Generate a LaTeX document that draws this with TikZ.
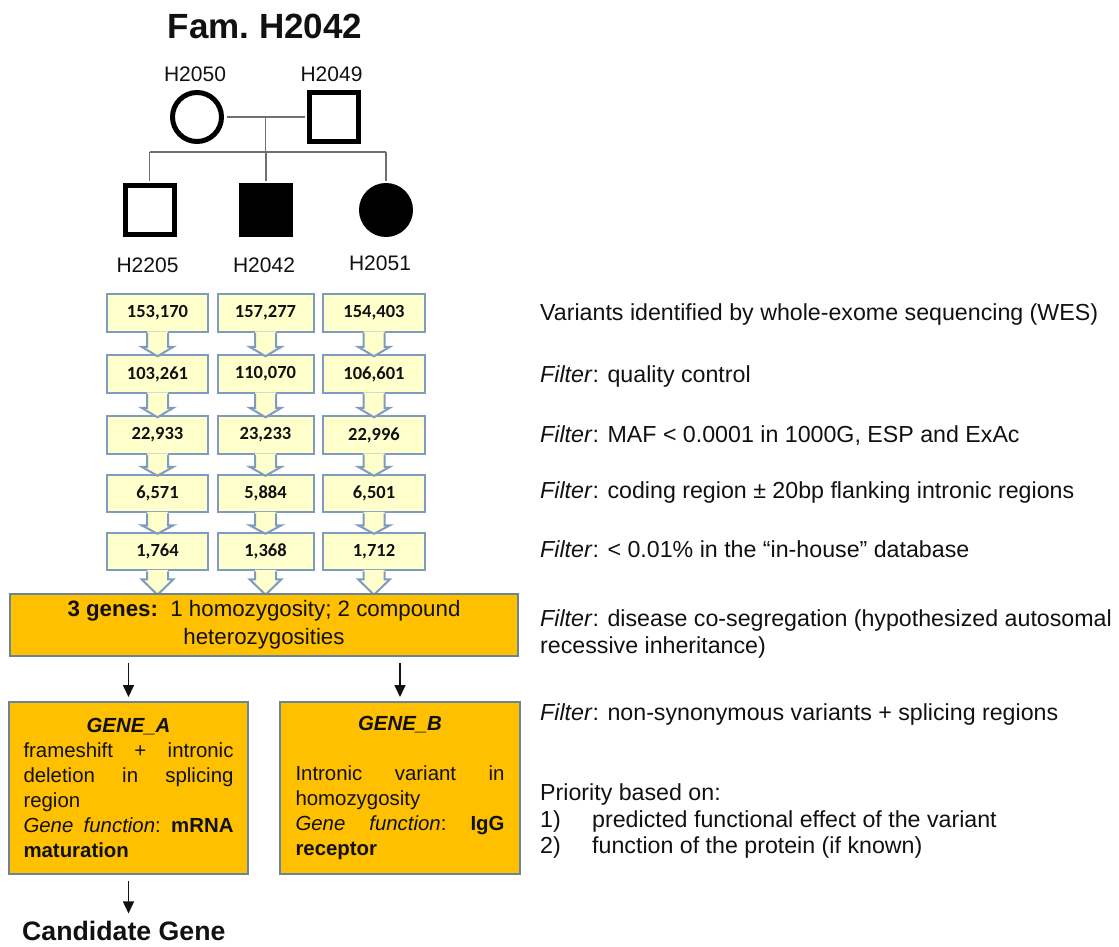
\documentclass[tikz,border=0pt]{standalone}
\usepackage{fontspec}
\setmainfont{Liberation Sans}
\newfontfamily\numfont{Carlito}
\usetikzlibrary{calc,arrows.meta}

\definecolor{numfill}{HTML}{FFFFCC}
\definecolor{numedge}{HTML}{7F9BC2}
\definecolor{gold}{HTML}{FFC000}
\definecolor{goldedge}{HTML}{6B8499}
\definecolor{ink}{HTML}{111111}
\definecolor{pedline}{HTML}{707070}

\newcommand\fs[2]{\fontsize{#1}{#2}\selectfont}

% down-pointing arrow fused to the bottom of a count box
% #1 node, #2 shaft length, #3 head length
\newcommand\boxarrow[3]{%
  \fill[numfill] ($(#1.south)+(-10.5,-1.5)$) -- ++(0,1.5+#2) -- ++(-5.5,0)
      -- ++(16,#3) -- ++(16,-#3) -- ++(-5.5,0) -- ++(0,-1.5-#2) -- cycle;
  \draw[numedge, line width=2pt, line join=miter] ($(#1.south)+(-10.5,0)$) -- ++(0,#2) -- ++(-5.5,0)
      -- ++(16,#3) -- ++(16,-#3) -- ++(-5.5,0) -- ++(0,-#2);
}

\tikzset{
  numbox/.style={draw=numedge, fill=numfill, line width=2pt, minimum height=37.5pt,
    inner sep=0pt, font=\numfont\bfseries\fs{18.5}{22}, text=ink},
  goldbox/.style={draw=goldedge, fill=gold, line width=2pt, inner sep=0pt, text=ink},
  note/.style={anchor=base west, inner sep=0pt, font=\fs{23.2}{27}, text=ink},
  pid/.style={anchor=base, inner sep=0pt, font=\fs{21}{25}, text=ink},
  kin/.style={draw=pedline, line width=1.3pt},
  conn/.style={draw=ink, line width=1.6pt, -{Triangle[width=11pt,length=12pt]}},
  male/.style={rectangle, draw=black, line width=5pt, minimum size=49pt, inner sep=0pt},
  female/.style={circle, draw=black, line width=5pt, minimum size=49pt, inner sep=0pt},
}

\begin{document}
\begin{tikzpicture}[x=1pt,y=-1pt]
\useasboundingbox (0,0) rectangle (1119,946);

% ---------- pedigree ----------
\node[anchor=base, inner sep=0pt, font=\bfseries\fs{35}{40}, text=ink] (title) at (265,38) {Fam.\ H2042};

\node[female] (h2050) at (197,117) {};
\node[male]   (h2049) at (334,117) {};
\node[male]   (h2205) at (149.5,210) {};
\node[male,fill=black]   (h2042) at (266,210) {};
\node[female,fill=black] (h2051) at (386,210) {};

\coordinate (mate) at ($(h2050.east)!0.5!(h2049.west)$);
\coordinate (sib) at ($(mate)+(0,35)$);
\draw[kin, shorten <=2.5pt, shorten >=2.5pt] (h2050.east) -- (h2049.west);
\draw[kin] (mate) -- (sib);
\draw[kin] (h2205.north |- sib) -- (h2051.north |- sib);
\draw[kin, shorten >=2.5pt] (h2205.north |- sib) -- (h2205.north);
\draw[kin, shorten >=2.5pt] (h2042.north |- sib) -- (h2042.north);
\draw[kin, shorten >=2.5pt] (h2051.north |- sib) -- (h2051.north);

\node[pid] (l2050) at (195,81) {H2050};
\node[pid] (l2049) at (331.5,81) {H2049};
\node[pid] (l2205) at (147.5,272) {H2205};
\node[pid] (l2042) at (264,272) {H2042};
\node[pid] (l2051) at (380,270) {H2051};

% ---------- variant counts per individual ----------
\node[numbox, minimum width=101pt] (n11) at (157.5,313) {153,170};
\node[numbox, minimum width=96pt]  (n21) at (265.5,313) {157,277};
\node[numbox, minimum width=102pt] (n31) at (374,313)   {154,403};

\node[numbox, minimum width=101pt] (n12) at (157.5,374) {103,261};
\node[numbox, minimum width=96pt]  (n22) at (265.5,374) {110,070};
\node[numbox, minimum width=102pt] (n32) at (374,374)   {106,601};

\node[numbox, minimum width=101pt] (n13) at (157.5,435) {22,933};
\node[numbox, minimum width=96pt]  (n23) at (265.5,435) {23,233};
\node[numbox, minimum width=102pt] (n33) at (374,435)   {22,996};

\node[numbox, minimum width=101pt] (n14) at (157.5,493.5) {6,571};
\node[numbox, minimum width=96pt]  (n24) at (265.5,493.5) {5,884};
\node[numbox, minimum width=102pt] (n34) at (374,493.5)   {6,501};

\node[numbox, minimum width=101pt] (n15) at (157.5,551.5) {1,764};
\node[numbox, minimum width=96pt]  (n25) at (265.5,551.5) {1,368};
\node[numbox, minimum width=102pt] (n35) at (374,551.5)   {1,712};

\foreach \c in {1,2,3}{
  \boxarrow{n\c1}{14}{9.5}
  \boxarrow{n\c2}{14}{9.5}
  \boxarrow{n\c3}{12}{9}
  \boxarrow{n\c4}{12}{8.5}
  \boxarrow{n\c5}{8}{15.5}
}

% ---------- gene level ----------
\node[goldbox, minimum width=508pt, minimum height=62pt, align=center, font=\fs{22.3}{28}]
  (genes) at (264,625) {\textbf{3 genes:}\ \ 1 homozygosity; 2 compound\\heterozygosities};

\node[goldbox, minimum width=239pt, minimum height=172pt, text width=210pt, align=left, font=\fs{20.4}{25}]
  (ga) at (128.5,788) {%
  \makebox[210pt][c]{\textbf{\textit{GENE\_A}}}\\
  \makebox[210pt]{frameshift\hfill+\hfill intronic}\\
  \makebox[210pt]{deletion\hfill in\hfill splicing}\\
  region\\
  \makebox[210pt]{\textit{Gene\hfill function}:\hfill\textbf{mRNA}}\\
  \textbf{maturation}};

\node[goldbox, minimum width=240pt, minimum height=172pt, text width=209pt, align=left, font=\fs{20.4}{25}]
  (gb) at (400,788) {%
  \makebox[209pt][c]{\textbf{\textit{GENE\_B}}}\\
  \mbox{}\\
  \makebox[209pt]{Intronic\hfill variant\hfill in}\\
  homozygosity\\
  \makebox[209pt]{\textit{Gene\hfill function}:\hfill\textbf{IgG}}\\
  \textbf{receptor}};

\draw[conn, shorten <=6pt, shorten >=4pt] (ga.north |- genes.south) -- (ga.north);
\draw[conn, shorten <=6pt, shorten >=4pt] (gb.north |- genes.south) -- (gb.north);

\node[anchor=base west, inner sep=0pt, font=\bfseries\fs{26.7}{30}, text=ink] (cand) at (22,940) {Candidate Gene};
\draw[conn, shorten <=6pt, shorten >=7pt] (ga.south) -- (ga.south |- cand.north);

% ---------- filtering steps ----------
\node[note] (s1) at (540,320) {Variants identified by whole-exome sequencing (WES)};
\node[note] (s2) at (540,382) {\textit{Filter}: quality control};
\node[note] (s3) at (540,442) {\textit{Filter}: MAF < 0.0001 in 1000G, ESP and ExAc};
\node[note] (s4) at (540,498) {\textit{Filter}: coding region ± 20bp flanking intronic regions};
\node[note] (s5) at (540,557) {\textit{Filter}: < 0.01\% in the “in-house” database};
\node[note] (s6) at (540,626) {\textit{Filter}: disease co-segregation (hypothesized autosomal};
\node[note] (s6b) at (540,653) {recessive inheritance)};
\node[note] (s7) at (540,720) {\textit{Filter}: non-synonymous variants + splicing regions};
\node[note] (s8) at (540,800) {Priority based on:};
\node[note] (p1n) at (540,827) {1)};
\node[note] (p1) at (592,827) {predicted functional effect of the variant};
\node[note] (p2n) at (540,853) {2)};
\node[note] (p2) at (592,853) {function of the protein (if known)};
\end{tikzpicture}
\end{document}
